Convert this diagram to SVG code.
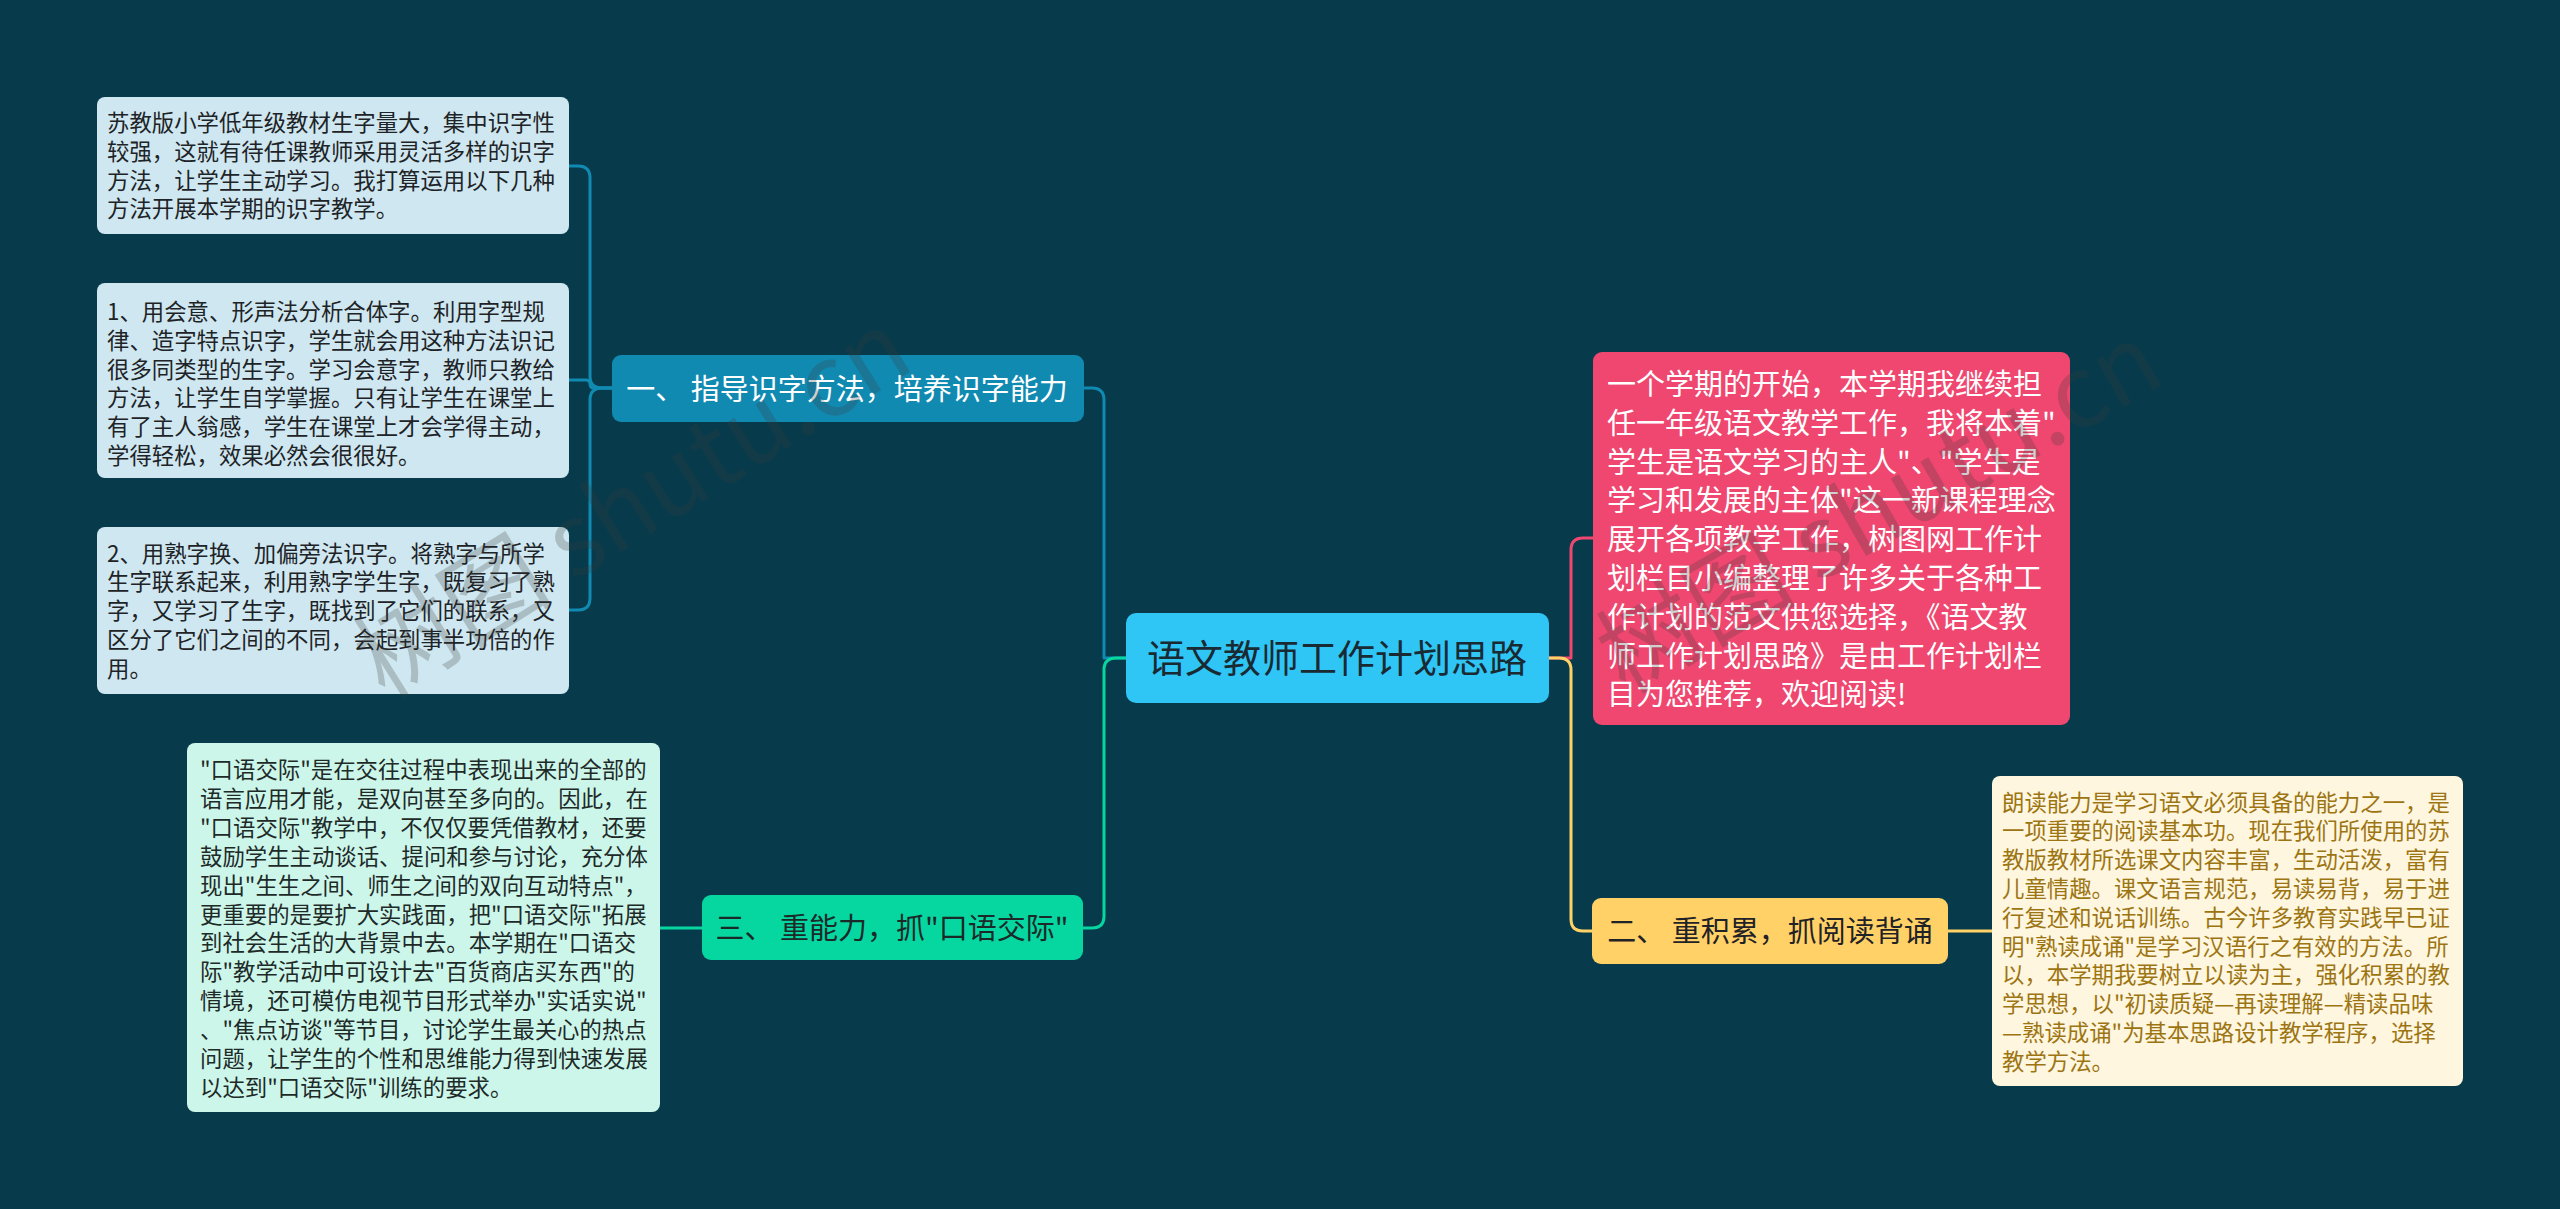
<svg xmlns="http://www.w3.org/2000/svg" width="2560" height="1209" viewBox="0 0 2560 1209">
<style>
text{font-family:"Noto Sans CJK SC","Noto Sans",sans-serif;}
.leaf{font-size:22.4px;fill:#1d2326;}
.gleaf{font-size:22.4px;fill:#1d2a28;}
.yleaf{font-size:22.4px;fill:#9c7512;}
.pink{font-size:29px;fill:#ffffff;}
.l1{font-size:29px;text-anchor:middle;}
.root{font-size:38px;text-anchor:middle;fill:#1a2a33;}
.c{fill:none;stroke-width:3;stroke-linecap:round;stroke-linejoin:round;}
.wm{font-size:100px;fill:#3a3a3a;opacity:0.24;}
</style>
<rect width="2560" height="1209" fill="#073b4c"/>
<g id="connectors">
<path class="c" stroke="#118ab2" d="M1126,658 H1104 V400 Q1104,388 1092,388 H1084"/>
<path class="c" stroke="#06d6a0" d="M1126,658 H1116 Q1104,658 1104,670 V916 Q1104,928 1092,928 H1083"/>
<path class="c" stroke="#ef476f" d="M1549,658 H1571 V550 Q1571,538 1583,538 H1593"/>
<path class="c" stroke="#ffd166" d="M1549,658 H1559 Q1571,658 1571,670 V919 Q1571,931 1583,931 H1592"/>
<path class="c" stroke="#118ab2" d="M612,388 H602 Q590,388 590,376 V178 Q590,166 578,166 H569"/>
<path class="c" stroke="#118ab2" d="M612,388 H594 Q590,388 590,384 Q590,380 586,380 H569"/>
<path class="c" stroke="#118ab2" d="M612,388 H602 Q590,388 590,400 V598 Q590,610 578,610 H569"/>
<path class="c" stroke="#06d6a0" d="M702,928 H660"/>
<path class="c" stroke="#ffd166" d="M1948,931 H1992"/>
</g>
<g id="root">
<rect x="1126" y="613" width="423" height="90" rx="10" fill="#2fc5f5"/>
<text class="root" x="1337" y="672">语文教师工作计划思路</text>
</g>
<g id="intro">
<rect x="1593" y="352" width="477" height="373" rx="9" fill="#ef476f"/>
<text class="pink">
<tspan x="1607" y="395">一个学期的开始，本学期我继续担</tspan>
<tspan x="1607" y="433.8">任一年级语文教学工作，我将本着"</tspan>
<tspan x="1607" y="472.6">学生是语文学习的主人"、"学生是</tspan>
<tspan x="1607" y="511.4">学习和发展的主体"这一新课程理念</tspan>
<tspan x="1607" y="550.2">展开各项教学工作，树图网工作计</tspan>
<tspan x="1607" y="589">划栏目小编整理了许多关于各种工</tspan>
<tspan x="1607" y="627.8">作计划的范文供您选择，《语文教</tspan>
<tspan x="1607" y="666.6">师工作计划思路》是由工作计划栏</tspan>
<tspan x="1607" y="705.4">目为您推荐，欢迎阅读!</tspan>
</text>
</g>
<g id="branch1">
<rect x="612" y="355" width="472" height="67" rx="9" fill="#118ab2"/>
<text class="l1" x="847" y="399.5" fill="#ffffff">一、 指导识字方法，培养识字能力</text>
</g>
<g id="branch2">
<rect x="1592" y="898" width="356" height="66" rx="9" fill="#ffd166"/>
<text class="l1" x="1770" y="942" fill="#1f2226">二、 重积累，抓阅读背诵</text>
</g>
<g id="branch3">
<rect x="702" y="895" width="381" height="65" rx="9" fill="#06d6a0"/>
<text class="l1" x="892" y="938.5" fill="#1b2a28">三、 重能力，抓"口语交际"</text>
</g>
<g id="leaf1">
<rect x="97" y="97" width="472" height="137" rx="8" fill="#cfe7f0"/>
<text class="leaf">
<tspan x="107" y="131">苏教版小学低年级教材生字量大，集中识字性</tspan>
<tspan x="107" y="159.8">较强，这就有待任课教师采用灵活多样的识字</tspan>
<tspan x="107" y="188.6">方法，让学生主动学习。我打算运用以下几种</tspan>
<tspan x="107" y="217.4">方法开展本学期的识字教学。</tspan>
</text>
</g>
<g id="leaf2">
<rect x="97" y="283" width="472" height="195" rx="8" fill="#cfe7f0"/>
<text class="leaf">
<tspan x="107" y="320">1、用会意、形声法分析合体字。利用字型规</tspan>
<tspan x="107" y="348.8">律、造字特点识字，学生就会用这种方法识记</tspan>
<tspan x="107" y="377.6">很多同类型的生字。学习会意字，教师只教给</tspan>
<tspan x="107" y="406.4">方法，让学生自学掌握。只有让学生在课堂上</tspan>
<tspan x="107" y="435.2">有了主人翁感，学生在课堂上才会学得主动，</tspan>
<tspan x="107" y="464">学得轻松，效果必然会很很好。</tspan>
</text>
</g>
<g id="leaf3">
<rect x="97" y="527" width="472" height="167" rx="8" fill="#cfe7f0"/>
<text class="leaf">
<tspan x="107" y="561.5">2、用熟字换、加偏旁法识字。将熟字与所学</tspan>
<tspan x="107" y="590.3">生字联系起来，利用熟字学生字，既复习了熟</tspan>
<tspan x="107" y="619.1">字，又学习了生字，既找到了它们的联系，又</tspan>
<tspan x="107" y="647.9">区分了它们之间的不同，会起到事半功倍的作</tspan>
<tspan x="107" y="676.7">用。</tspan>
</text>
</g>
<g id="leaf4">
<rect x="187" y="743" width="473" height="369" rx="8" fill="#cdf6eb"/>
<text class="gleaf">
<tspan x="200" y="778">"口语交际"是在交往过程中表现出来的全部的</tspan>
<tspan x="200" y="806.9">语言应用才能，是双向甚至多向的。因此，在</tspan>
<tspan x="200" y="835.8">"口语交际"教学中，不仅仅要凭借教材，还要</tspan>
<tspan x="200" y="864.7">鼓励学生主动谈话、提问和参与讨论，充分体</tspan>
<tspan x="200" y="893.6">现出"生生之间、师生之间的双向互动特点"，</tspan>
<tspan x="200" y="922.5">更重要的是要扩大实践面，把"口语交际"拓展</tspan>
<tspan x="200" y="951.4">到社会生活的大背景中去。本学期在"口语交</tspan>
<tspan x="200" y="980.3">际"教学活动中可设计去"百货商店买东西"的</tspan>
<tspan x="200" y="1009.2">情境，还可模仿电视节目形式举办"实话实说"</tspan>
<tspan x="200" y="1038.1">、"焦点访谈"等节目，讨论学生最关心的热点</tspan>
<tspan x="200" y="1067">问题，让学生的个性和思维能力得到快速发展</tspan>
<tspan x="200" y="1095.9">以达到"口语交际"训练的要求。</tspan>
</text>
</g>
<g id="leaf5">
<rect x="1992" y="776" width="471" height="310" rx="8" fill="#fff6df"/>
<text class="yleaf">
<tspan x="2002" y="810.5">朗读能力是学习语文必须具备的能力之一，是</tspan>
<tspan x="2002" y="839.3">一项重要的阅读基本功。现在我们所使用的苏</tspan>
<tspan x="2002" y="868.1">教版教材所选课文内容丰富，生动活泼，富有</tspan>
<tspan x="2002" y="896.9">儿童情趣。课文语言规范，易读易背，易于进</tspan>
<tspan x="2002" y="925.7">行复述和说话训练。古今许多教育实践早已证</tspan>
<tspan x="2002" y="954.5">明"熟读成诵"是学习汉语行之有效的方法。所</tspan>
<tspan x="2002" y="983.3">以，本学期我要树立以读为主，强化积累的教</tspan>
<tspan x="2002" y="1012.1">学思想，以"初读质疑—再读理解—精读品味</tspan>
<tspan x="2002" y="1040.9">—熟读成诵"为基本思路设计教学程序，选择</tspan>
<tspan x="2002" y="1069.7">教学方法。</tspan>
</text>
</g>
<g id="watermarks">
<text class="wm" transform="translate(385,700) rotate(-32)">树图 shutu.cn</text>
<text class="wm" transform="translate(1625,695) rotate(-30)">树图 shutu.cn</text>
</g>
</svg>
